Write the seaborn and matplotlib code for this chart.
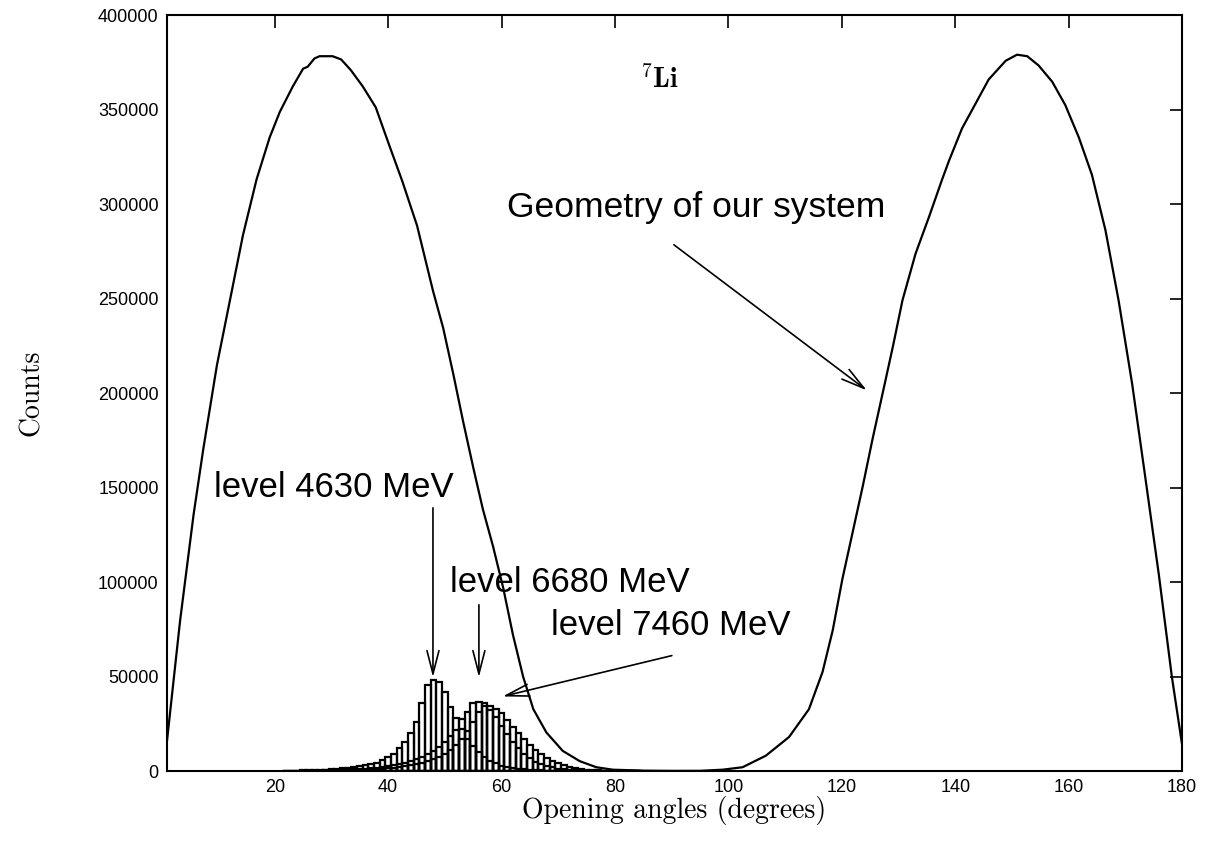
import matplotlib
matplotlib.use("Agg")
import matplotlib.pyplot as plt
import seaborn as sns

# Geometry of the detection system (smooth curve)
geom_angle = [1.0, 3.3, 5.7, 7.4, 9.8, 12.1, 14.4, 16.8, 19.1, 20.9, 23.2, 25.0, 25.8,
              27.0, 27.9, 30.2, 31.7, 33.4, 35.5, 37.8, 40.2, 42.5, 45.1, 47.9, 49.7,
              51.5, 53.2, 55.0, 56.7, 58.5, 60.3, 62.0, 63.8, 65.6, 67.9, 70.8, 73.8,
              76.7, 79.6, 85.0, 90.0, 95.0, 99.0, 102.5, 106.6, 110.7, 114.2, 116.6,
              118.4, 120.1, 121.9, 123.7, 125.4, 127.2, 129.0, 130.7, 133.0, 135.4,
              137.7, 138.9, 141.2, 143.0, 145.9, 148.9, 150.9, 152.7, 154.7, 157.1,
              159.4, 161.8, 164.1, 166.5, 168.8, 171.2, 173.5, 175.9, 178.2, 180.0]
geom_counts = [16000, 79400, 136000, 170400, 214700, 249100, 283600, 313100, 335200,
               348800, 362300, 371600, 372600, 377000, 378200, 378200, 376500, 370900,
               362300, 351200, 331000, 312000, 288500, 254100, 234400, 209800, 185200,
               160600, 138500, 118800, 96700, 72100, 49900, 32700, 20400, 10600, 5200,
               2000, 700, 200, 80, 100, 700, 2000, 8100, 18000, 32700, 52400, 74500,
               101600, 126200, 150800, 175400, 199900, 224500, 249100, 273700, 293400,
               313100, 322900, 340000, 349900, 365900, 375800, 379000, 378200, 373300,
               364700, 352400, 335200, 315500, 286000, 249100, 204800, 155700, 104000,
               49900, 14000]

# Histograms of opening angles for the three 7Li levels (1 degree bins)
hist_angle = list(range(22, 85))
level_4630 = [150, 200, 260, 330, 420, 520, 640, 780, 950, 1150, 1400, 1700, 2050,
              2500, 3000, 3600, 4400, 5800, 7200, 9200, 12000, 15500, 20000, 26000,
              35800, 45500, 48100, 47200, 42000, 34000, 27900, 22000, 17000, 13000,
              9800, 7300, 5400, 4000, 2900, 2100, 1500, 1100, 800, 580, 420, 300, 220,
              160, 120, 90, 70, 50, 40, 30, 20, 15, 12, 10, 8, 6, 5, 4, 3]
level_6680 = [50, 70, 90, 120, 150, 190, 240, 300, 370, 450, 550, 670, 810, 980, 1200,
              1450, 1750, 2100, 2500, 3000, 3600, 4300, 5100, 6100, 7300, 8800, 10600,
              12800, 15500, 18500, 21500, 27500, 31400, 35800, 36600, 36000, 32500,
              28500, 24000, 19500, 15500, 12000, 9000, 6800, 5000, 3700, 2700, 1900,
              1300, 900, 600, 400, 260, 170, 110, 70, 45, 30, 20, 12, 8, 5, 3]
level_7460 = [30, 40, 55, 70, 90, 115, 145, 180, 220, 270, 330, 400, 480, 580, 700,
              840, 1000, 1200, 1450, 1750, 2100, 2500, 3000, 3600, 4300, 5200, 6300,
              7600, 9200, 11200, 13500, 17000, 21000, 26000, 31000, 34500, 34200, 33000,
              30700, 27000, 23100, 19900, 16800, 13800, 11100, 9000, 7000, 5400, 4100,
              3000, 2300, 1600, 1000, 700, 480, 330, 220, 150, 100, 70, 45, 30, 20]

y_ticks = [0, 50000, 100000, 150000, 200000, 250000, 300000, 350000, 400000]
x_ticks = [20, 40, 60, 80, 100, 120, 140, 160, 180]

sns.set_style("white")
plt.rcParams["font.family"] = ["Liberation Sans", "DejaVu Sans"]
plt.rcParams["mathtext.fontset"] = "cm"
plt.rcParams["text.color"] = "black"
plt.rcParams["axes.labelcolor"] = "black"
plt.rcParams["xtick.color"] = "black"
plt.rcParams["ytick.color"] = "black"

fig = plt.figure(figsize=(12.12, 8.43), dpi=100)
ax = fig.add_axes([0.1378, 0.0854, 0.8375, 0.8968])

# histograms drawn as open boxes
for counts in (level_4630, level_6680, level_7460):
    sns.histplot(x=hist_angle, weights=counts, discrete=True, fill=False,
                 element="bars", color="black", linewidth=1.6, ax=ax)

sns.lineplot(x=geom_angle, y=geom_counts, color="black", linewidth=1.6,
             sort=False, ax=ax)

ax.set_xlim(1, 180)
ax.set_ylim(0, 400000)
ax.set_xticks(x_ticks)
ax.set_yticks(y_ticks)
ax.set_xticklabels([str(t) for t in x_ticks])
ax.set_yticklabels([str(t) for t in y_ticks])
ax.tick_params(direction="in", length=9, width=1.2, top=True, right=True,
               labelsize=13, pad=6, colors="black")
for sp in ax.spines.values():
    sp.set_linewidth(1.5)
    sp.set_color("black")

ax.set_xlabel("Opening angles (degrees)", fontfamily="cmr10", fontsize=20,
              labelpad=0, color="black")
ax.set_ylabel("Counts", fontfamily="cmr10", fontsize=20, labelpad=38, color="black")

# annotations
ax.text(87.8, 365600, r"$^{7}\mathbf{Li}$", fontsize=20, ha="center", va="center")
arrow = dict(arrowstyle="->,head_length=0.7,head_width=0.18", color="black",
             lw=1.2, mutation_scale=24)
ax.text(30.5, 150000, "level 4630 MeV", fontsize=25, ha="center", va="center")
ax.annotate("", xy=(47.9, 48100), xytext=(47.9, 140700), arrowprops=arrow)
ax.text(72.0, 99500, "level 6680 MeV", fontsize=25, ha="center", va="center")
ax.annotate("", xy=(56.0, 48100), xytext=(56.0, 89400), arrowprops=arrow)
ax.text(89.8, 77000, "level 7460 MeV", fontsize=25, ha="center", va="center")
ax.annotate("", xy=(59.7, 39100), xytext=(90.5, 61400), arrowprops=arrow)
ax.text(94.3, 298000, "Geometry of our system", fontsize=25.5, ha="center", va="center")
ax.annotate("", xy=(124.8, 200500), xytext=(90.0, 279300), arrowprops=arrow)

fig.savefig("out.png", dpi=100)
